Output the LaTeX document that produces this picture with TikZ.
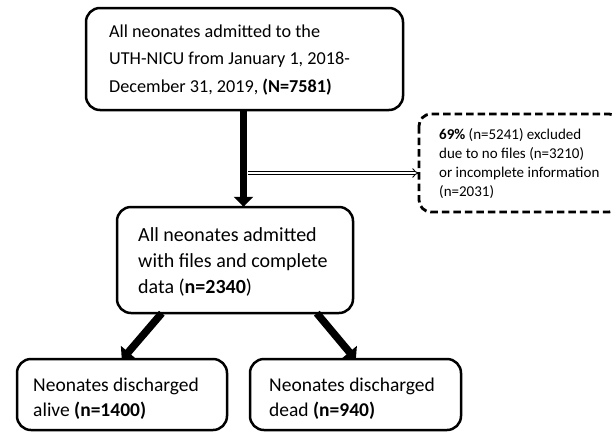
\documentclass[tikz,border=0pt]{standalone}
\usepackage{fontspec}
\setmainfont{Carlito}
\usetikzlibrary{arrows.meta,calc}
\begin{document}
\begin{tikzpicture}[x=1pt,y=-1pt,
  box/.style={draw=black, line width=2.5pt, rounded corners=14pt, fill=white},
  dbox/.style={draw=black, line width=2.8pt, rounded corners=12pt, dash pattern=on 7.5pt off 4pt},
  txt/.style={anchor=west, align=left, inner sep=0pt},
  bigarrow/.style={line width=7.5pt, -{Triangle[width=19pt,length=10pt]}},
  dblarrow/.style={double, double distance=2.4pt, line width=0.9pt, -{Implies[]}}
]
\useasboundingbox (0,0) rectangle (613,432);
\clip (0,0) rectangle (613,432);
% boxes
\path[box] (86,8) rectangle (403,110);
\path[box] (117,207) rectangle (353,313);
\path[box] (17,359) rectangle (227,430);
\path[box] (250,359) rectangle (461,430);
\path[dbox] (419,114) rectangle (621,212);
% named anchors
\node[inner sep=0pt, minimum width=317pt, minimum height=102pt] (top) at (244.5,59) {};
\node[inner sep=0pt, minimum width=236pt, minimum height=106pt] (mid) at (235,260) {};
\node[inner sep=0pt, minimum width=210pt, minimum height=71pt] (left) at (122,394.5) {};
\node[inner sep=0pt, minimum width=211pt, minimum height=71pt] (right) at (355.5,394.5) {};
\node[inner sep=0pt, minimum width=202pt, minimum height=98pt] (excl) at (520,163) {};
% texts
\node[txt, font=\fontsize{18.2}{27.5}\selectfont] (t1) at (109,60) {All neonates admitted to the\\UTH-NICU from January 1, 2018-\\December 31, 2019, \textbf{(N=7581)}};
\node[txt, font=\fontsize{20}{26}\selectfont] (t2) at (138,262) {All neonates admitted\\with files and complete\\data (\textbf{n=2340})};
\node[txt, font=\fontsize{19.5}{25}\selectfont] (t3) at (33,399) {Neonates discharged\\alive \textbf{(n=1400)}};
\node[txt, font=\fontsize{19.5}{25}\selectfont] (t4) at (269,399) {Neonates discharged\\dead \textbf{(n=940)}};
\node[txt, font=\fontsize{15}{19}\selectfont] (t5) at (439,163.5) {\textbf{69\%} (n=5241) excluded\\due to no files (n=3210)\\or incomplete information\\(n=2031)};
% arrows
\draw[bigarrow] ([xshift=-1pt]top.south) -- ([xshift=8.5pt]mid.north);
\coordinate (j) at (248,173);
\draw[dblarrow] (j) -- (j -| excl.west);
\draw[bigarrow] ([xshift=45pt]mid.south west) -- ([xshift=105pt,yshift=-1pt]left.north west);
\draw[bigarrow] ([xshift=200pt]mid.south west) -- ([xshift=106pt,yshift=-1pt]right.north west);
\end{tikzpicture}
\end{document}
